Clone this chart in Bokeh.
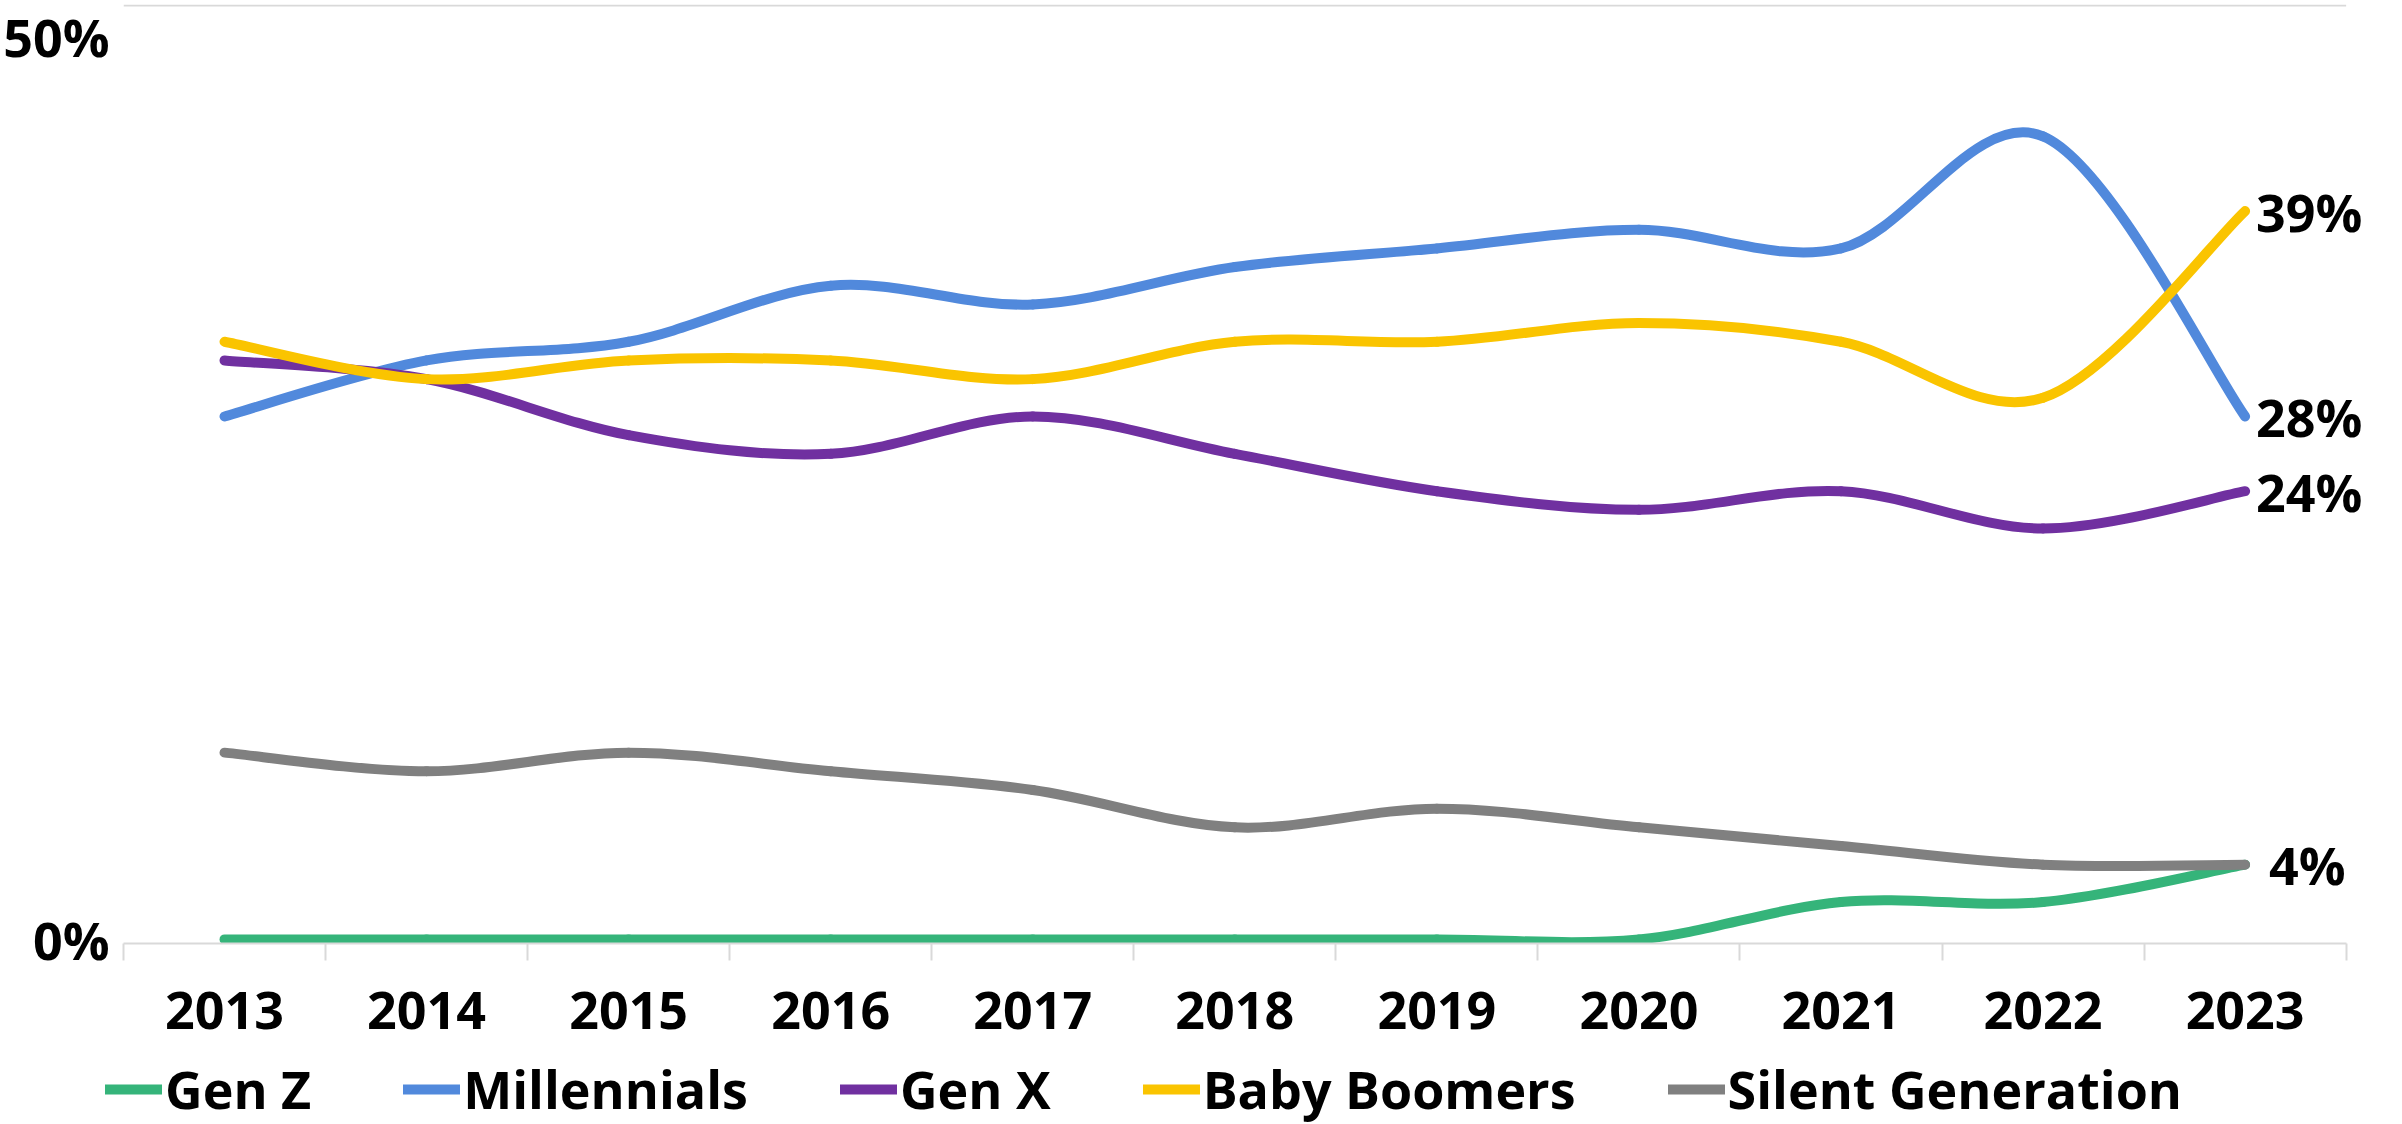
from bokeh.plotting import figure
from bokeh.layouts import column
from bokeh.models import (Range1d, FixedTicker, PrintfTickFormatter, Legend, LegendItem,
                          LabelSet, ColumnDataSource)
from bokeh.core.properties import value
from bokeh.embed import file_html
from bokeh.resources import INLINE

# ---- data ----
years = [2013, 2014, 2015, 2016, 2017, 2018, 2019, 2020, 2021, 2022, 2023]
gen_z = [0, 0, 0, 0, 0, 0, 0, 0, 2, 2, 4]
millennials = [28, 31, 32, 35, 34, 36, 37, 38, 37, 43, 28]
gen_x = [31, 30, 27, 26, 28, 26, 24, 23, 24, 22, 24]
baby_boomers = [32, 30, 31, 31, 30, 32, 32, 33, 32, 29, 39]
silent = [10, 9, 10, 9, 8, 6, 7, 6, 5, 4, 4]
series_names = ["Gen Z", "Millennials", "Gen X", "Baby Boomers", "Silent Generation"]
y_ticks = [0, 50]

# ---- styles ----
colors = ["#35b47a", "#5189dc", "#7030a0", "#fac400", "#808080"]
FONT = "Open Sans"
FS = "52px"
LW = 10
RIGHT_PAD = 0.18   # room for end labels inside the frame
Y_PAD_LO = 0.22    # keeps the full stroke of lines lying on 0
Y_PAD_HI = 0.06

x_lo, x_hi = years[0] - 0.5, years[-1] + 0.5
p = figure(width=2386, height=1053, output_backend="svg", toolbar_location=None,
           x_range=Range1d(x_lo, x_hi + RIGHT_PAD),
           y_range=Range1d(y_ticks[0] - Y_PAD_LO, y_ticks[-1] + Y_PAD_HI),
           min_border_left=116, min_border_right=4, min_border_top=4,
           min_border_bottom=110, frame_align=False)
p.outline_line_color = None
p.background_fill_color = "white"
p.border_fill_color = "white"

# top gridline (limited to the axis extent)
p.xgrid.grid_line_color = None
p.ygrid.grid_line_color = None
p.segment(x0=[x_lo], x1=[x_hi], y0=[y_ticks[-1]], y1=[y_ticks[-1]],
          line_color="#d9d9d9", line_width=2)


def smooth_segments(xs, ys):
    n = len(xs)
    out = {k: [] for k in ("x0", "y0", "x1", "y1", "cx0", "cy0", "cx1", "cy1")}
    for i in range(n - 1):
        im1 = max(i - 1, 0)
        ip2 = min(i + 2, n - 1)
        out["x0"].append(xs[i]); out["y0"].append(ys[i])
        out["x1"].append(xs[i + 1]); out["y1"].append(ys[i + 1])
        out["cx0"].append(xs[i] + (xs[i + 1] - xs[im1]) / 6.0)
        out["cy0"].append(ys[i] + (ys[i + 1] - ys[im1]) / 6.0)
        out["cx1"].append(xs[i + 1] - (xs[ip2] - xs[i]) / 6.0)
        out["cy1"].append(ys[i + 1] - (ys[ip2] - ys[i]) / 6.0)
    return out


all_series = [gen_z, millennials, gen_x, baby_boomers, silent]
for vals, col in zip(all_series, colors):
    seg = smooth_segments(years, vals)
    p.bezier(source=ColumnDataSource(seg), x0="x0", y0="y0", x1="x1", y1="y1",
             cx0="cx0", cy0="cy0", cx1="cx1", cy1="cy1",
             line_color=col, line_width=LW, line_cap="round")

# end labels
end_vals = [baby_boomers[-1], millennials[-1], gen_x[-1], silent[-1]]
end_offsets = [11, 11, 11, 24]
lab_src = ColumnDataSource(dict(x=[years[-1]] * len(end_vals), y=end_vals,
                                t=[f"{v}%" for v in end_vals], off=end_offsets))
labels = LabelSet(x="x", y="y", text="t", x_offset="off", source=lab_src,
                  text_font=value(FONT), text_font_size=value(FS),
                  text_font_style="bold", text_color="black",
                  text_baseline="middle", text_align="left")
p.add_layout(labels)

# x axis
xa = p.xaxis[0]
xa.bounds = (x_lo, x_hi)
xa.ticker = FixedTicker(ticks=years, minor_ticks=[y - 0.5 for y in years] + [x_hi])
xa.axis_line_color = "#d9d9d9"
xa.axis_line_width = 2
xa.major_tick_line_color = None
xa.major_tick_out = 0
xa.major_tick_in = 0
xa.minor_tick_line_color = "#d9d9d9"
xa.minor_tick_line_width = 2
xa.minor_tick_out = 17
xa.minor_tick_in = 0
xa.major_label_standoff = 31
xa.major_label_text_font = FONT
xa.major_label_text_font_size = FS
xa.major_label_text_font_style = "bold"
xa.major_label_text_color = "black"

# y axis
ya = p.yaxis[0]
ya.ticker = FixedTicker(ticks=y_ticks)
ya.formatter = PrintfTickFormatter(format="%d%%")
ya.axis_line_color = None
ya.major_tick_line_color = None
ya.minor_tick_line_color = None
ya.major_label_standoff = 8
ya.major_label_text_font = FONT
ya.major_label_text_font_size = FS
ya.major_label_text_font_style = "bold"
ya.major_label_text_color = "black"

# ---- legend strip below the chart ----
lg = figure(width=2386, height=71, output_backend="svg", toolbar_location=None,
            x_range=Range1d(0, 1), y_range=Range1d(0, 1),
            x_axis_type=None, y_axis_type=None, frame_align=False,
            min_border_left=0, min_border_right=0, min_border_top=0, min_border_bottom=0)
lg.outline_line_color = None
lg.xgrid.grid_line_color = None
lg.ygrid.grid_line_color = None
nan = float("nan")
items = []
for name, col in zip(series_names, colors):
    # legend-only renderer: one undefined point, nothing is drawn in the strip
    r = lg.line(x=[nan], y=[nan], line_color=col, line_width=LW, line_cap="round")
    items.append(LegendItem(label=name, renderers=[r]))
legend = Legend(items=items, orientation="horizontal", location=(105, 0),
                glyph_width=57, glyph_height=20, label_standoff=3, spacing=92,
                padding=0, margin=0, border_line_color=None, background_fill_alpha=0,
                label_text_font=FONT, label_text_font_size=FS,
                label_text_font_style="bold", label_text_color="black")
lg.add_layout(legend, "center")

layout = column(p, lg, spacing=0)
open("out.html", "w").write(file_html(layout, INLINE))
